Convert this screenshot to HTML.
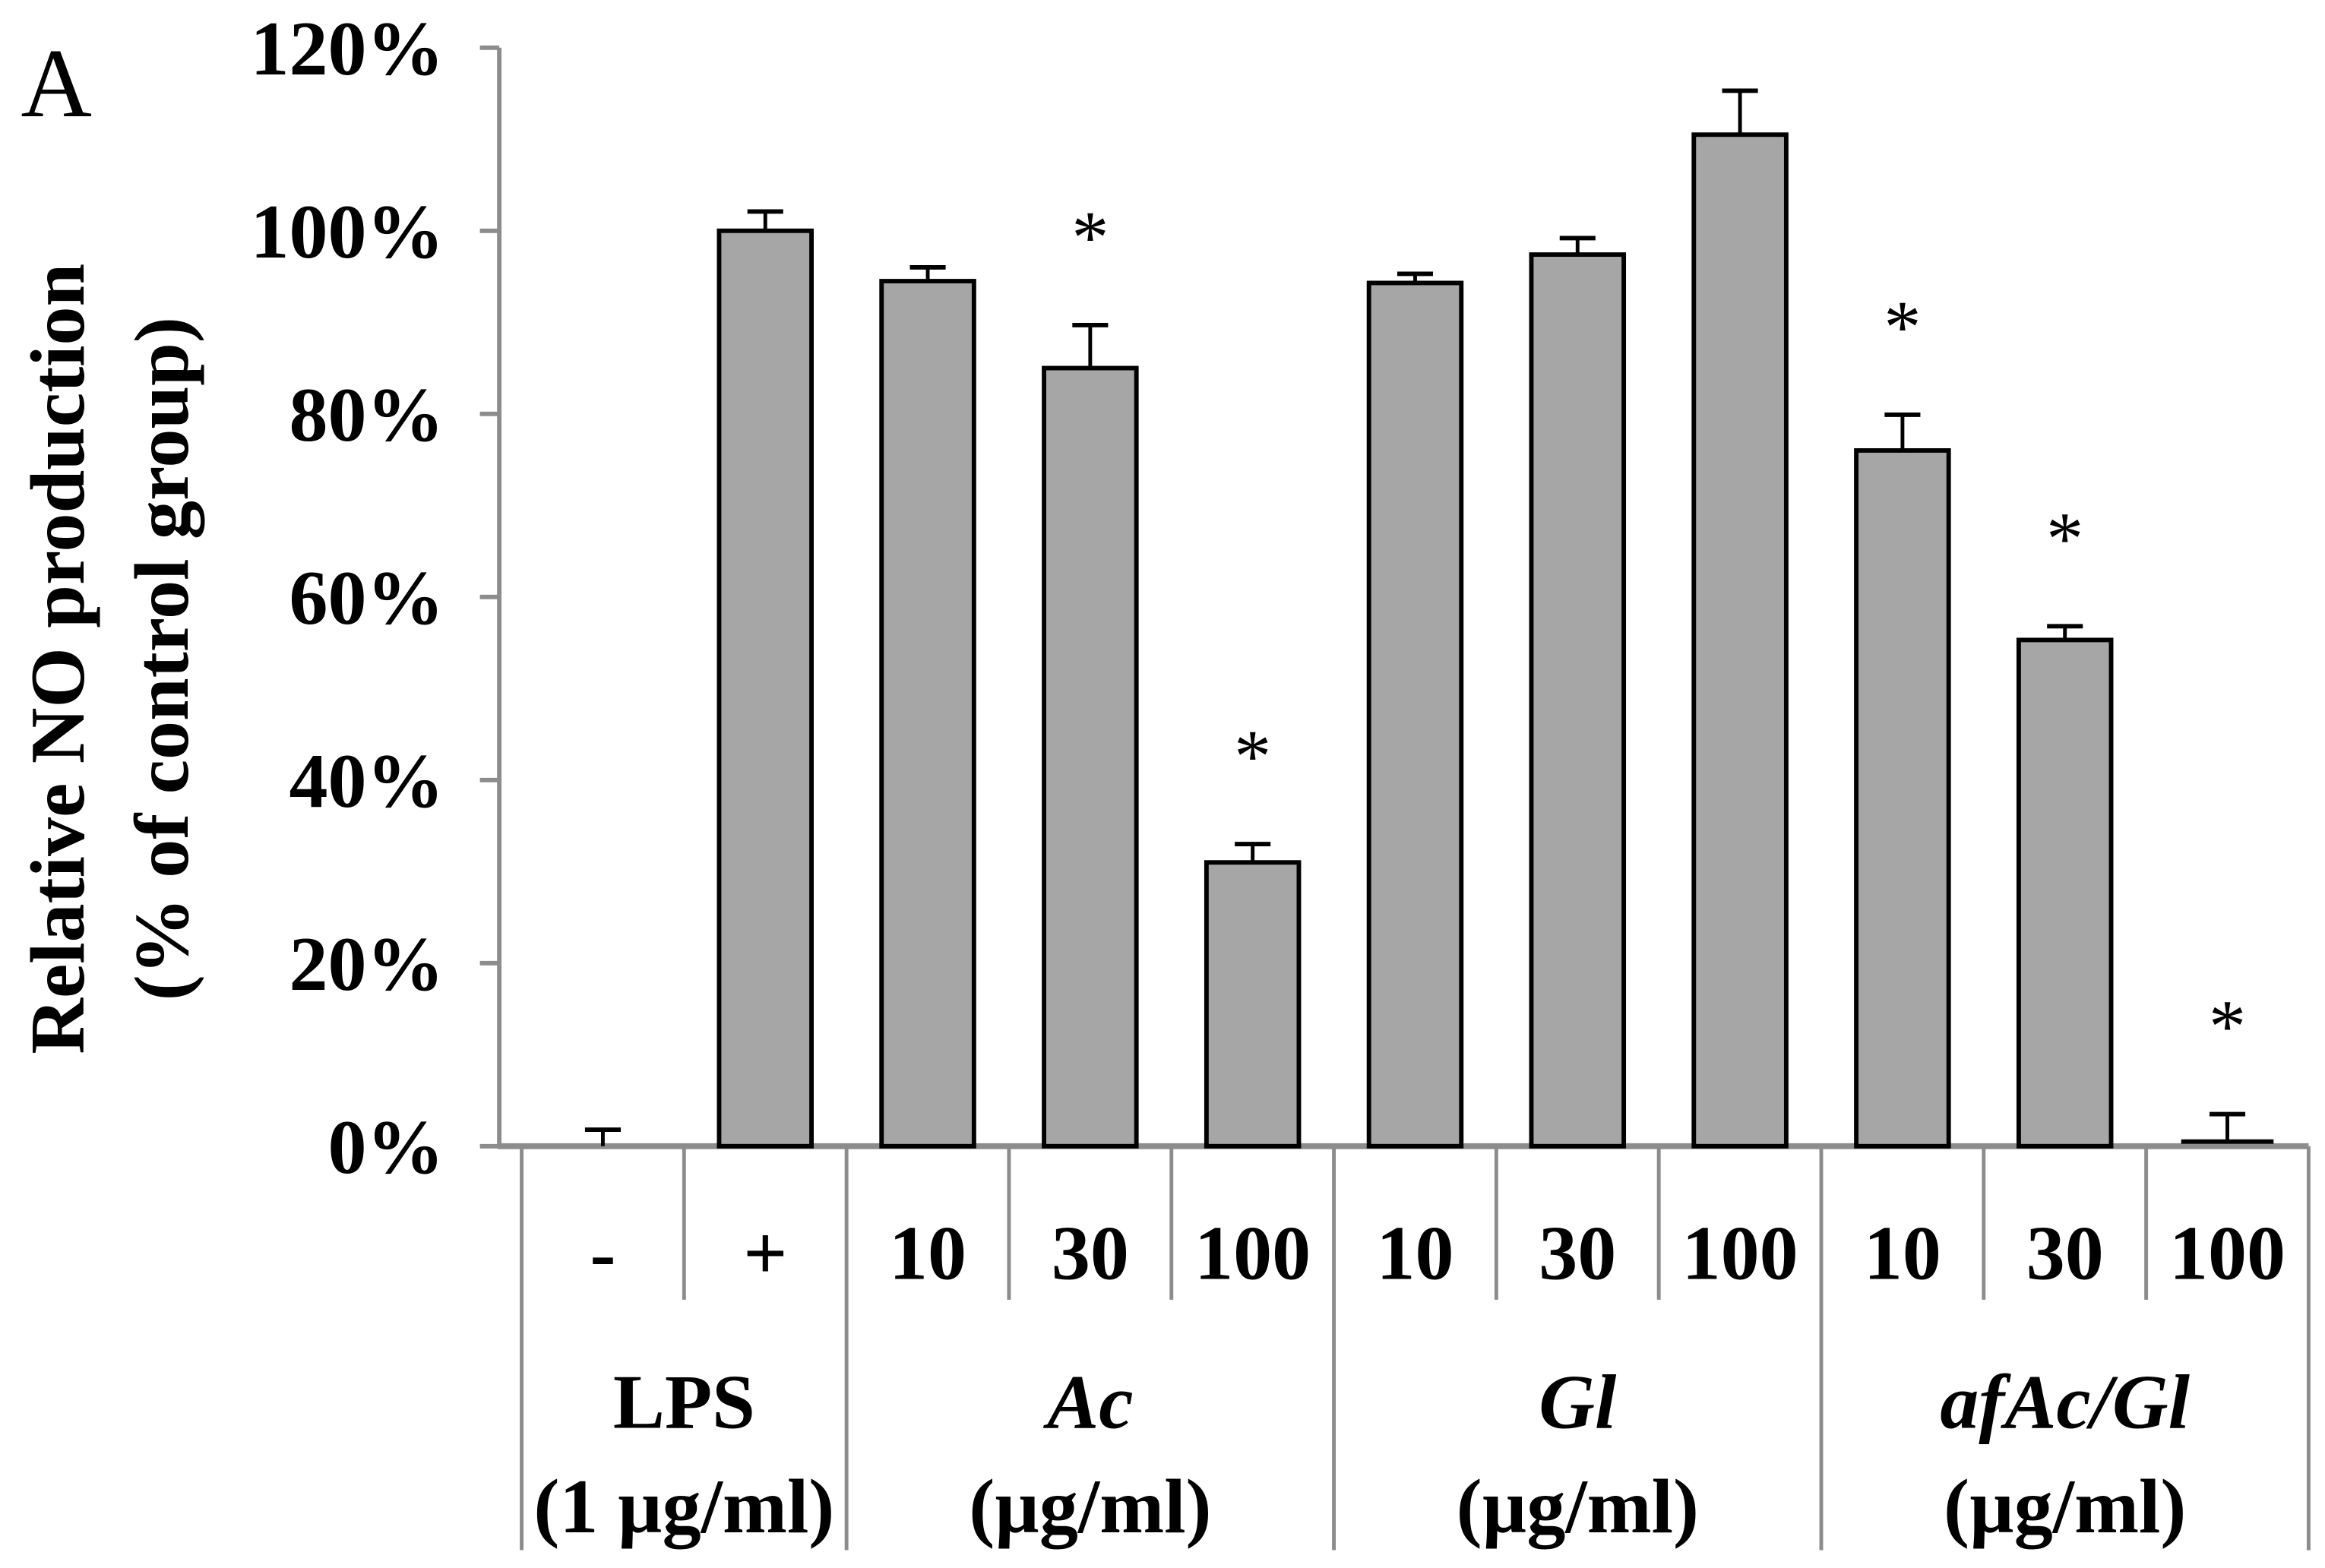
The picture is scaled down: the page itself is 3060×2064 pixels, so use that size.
<!DOCTYPE html>
<html><head><meta charset="utf-8"><style>
html,body{margin:0;padding:0;background:#fff;}
svg{display:block;}
text{font-family:"Liberation Serif","Times New Roman",serif;font-weight:bold;fill:#000;}
</style></head><body>
<svg id="chart" width="3060" height="2064" viewBox="0 0 1560 1052" preserveAspectRatio="none" xmlns="http://www.w3.org/2000/svg">
<text x="14" y="78" font-family="Liberation Serif" style="font-weight:normal;font-size:66px">A</text>
<g>
<text transform="translate(56,442) rotate(-90)" text-anchor="middle" font-family="Liberation Serif" style="font-size:52px">Relative NO production</text>
<text transform="translate(126,442) rotate(-90)" text-anchor="middle" font-family="Liberation Serif" style="font-size:52px">(% of control group)</text>
</g>
<g id="yaxis"></g>
<g id="xaxis"></g>
<g id="bars"></g>
</svg>
<script>
const categories = ["-", "+", "10", "30", "100", "10", "30", "100", "10", "30", "100"];
const values = [0, 100, 94.5, 85, 31, 94.3, 97.4, 110.5, 76, 55.3, 0.5];
const errors = [1.8, 2.1, 1.5, 4.7, 2, 1, 1.8, 4.8, 3.9, 1.5, 3];
const significant = [false, false, false, true, true, false, false, false, true, true, true];
const groups = ["LPS", "Ac", "Gl", "afAc/Gl"];
const groupSubs = ["(1 µg/ml)", "(µg/ml)", "(µg/ml)", "(µg/ml)"];
const groupSizes = [2, 3, 3, 3];
const groupItalic = [false, true, true, true];
const yTicks = [0, 20, 40, 60, 80, 100, 120];

const NS = "http://www.w3.org/2000/svg";
const y0 = 769, yTop = 32, yMax = 120;
const xStart = 350, catW = 109;
function yScale(v){ return y0 - (v / yMax) * (y0 - yTop); }
function xCenter(i){ return xStart + catW * (i + 0.5); }
function mk(tag, attrs, parent){ const e = document.createElementNS(NS, tag); for (const k in attrs) e.setAttribute(k, attrs[k]); parent.appendChild(e); return e; }
const FF = 'Liberation Serif';

const ya = document.getElementById('yaxis');
const yl = mk('line', {x1:335, x2:335, y1:yScale(yMax), y2:y0, stroke:'#8c8c8c', 'stroke-width':3}, ya);


yTicks.forEach(t => {
  const tk = mk('line', {x1:322, x2:335, y1:yScale(t), y2:yScale(t), stroke:'#8c8c8c', 'stroke-width':3}, ya);
  
  
  const lb = mk('text', {x:298, y:yScale(t) + 18, 'text-anchor':'end', 'font-family':FF, style:'font-size:52px'}, ya);
  lb.textContent = t + '%';
  
  
});

const xa = document.getElementById('xaxis');
const xl = mk('line', {x1:334, x2:xStart + catW * categories.length, y1:y0, y2:y0, stroke:'#8c8c8c', 'stroke-width':4}, xa);


const bounds = [0];
groupSizes.forEach((s, i) => bounds.push(bounds[i] + s));
for (let i = 0; i <= categories.length; i++) {
  const isGroup = bounds.includes(i);
  const ln = mk('line', {x1:xStart + catW * i, x2:xStart + catW * i, y1:y0, y2:isGroup ? 1040 : 872, stroke:'#8c8c8c', 'stroke-width':2.5}, xa);
  
  
}
categories.forEach((c, i) => {
  const t = mk('text', {x:xCenter(i), y:858, 'text-anchor':'middle', 'font-family':FF, style:'font-size:52px'}, xa);
  t.textContent = c;
  
  
});
groups.forEach((g, i) => {
  const cx = xStart + catW * (bounds[i] + bounds[i + 1]) / 2;
  const t = mk('text', {x:cx, y:958, 'text-anchor':'middle', 'font-family':FF, style:'font-size:52px' + (groupItalic[i] ? ';font-style:italic' : '')}, xa);
  t.textContent = g;
  
  
  const s = mk('text', {x:cx, y:1028, 'text-anchor':'middle', 'font-family':FF, style:'font-size:52px'}, xa);
  s.textContent = groupSubs[i];
  
  
});

const bg = document.getElementById('bars');
const bw = 62;
values.forEach((v, i) => {
  const cx = xCenter(i);
  const yv = yScale(v);
  const ye = yScale(v + errors[i]);
  const el = mk('line', {x1:cx, x2:cx, y1:ye, y2:yv, stroke:'#000', 'stroke-width':2.5}, bg);
  
  
  const cap = mk('line', {x1:cx - 12, x2:cx + 12, y1:ye, y2:ye, stroke:'#000', 'stroke-width':3}, bg);
  
  
  if (v > 0.8) {
    const r = mk('rect', {x:cx - bw / 2, y:yv, width:bw, height:y0 - yv, fill:'#a6a6a6', stroke:'#000', 'stroke-width':3}, bg);
    
    
  } else if (v > 0) {
    const r = mk('line', {x1:cx - bw / 2, x2:cx + bw / 2, y1:yv, y2:yv, stroke:'#000', 'stroke-width':3}, bg);
    
    
  }
  if (significant[i]) {
    const s = mk('text', {x:cx, y:ye - 42, 'text-anchor':'middle', 'font-family':FF, style:'font-size:50px;font-weight:normal'}, bg);
    s.textContent = '*';
    
    
  }
});
</script>
</body></html>
